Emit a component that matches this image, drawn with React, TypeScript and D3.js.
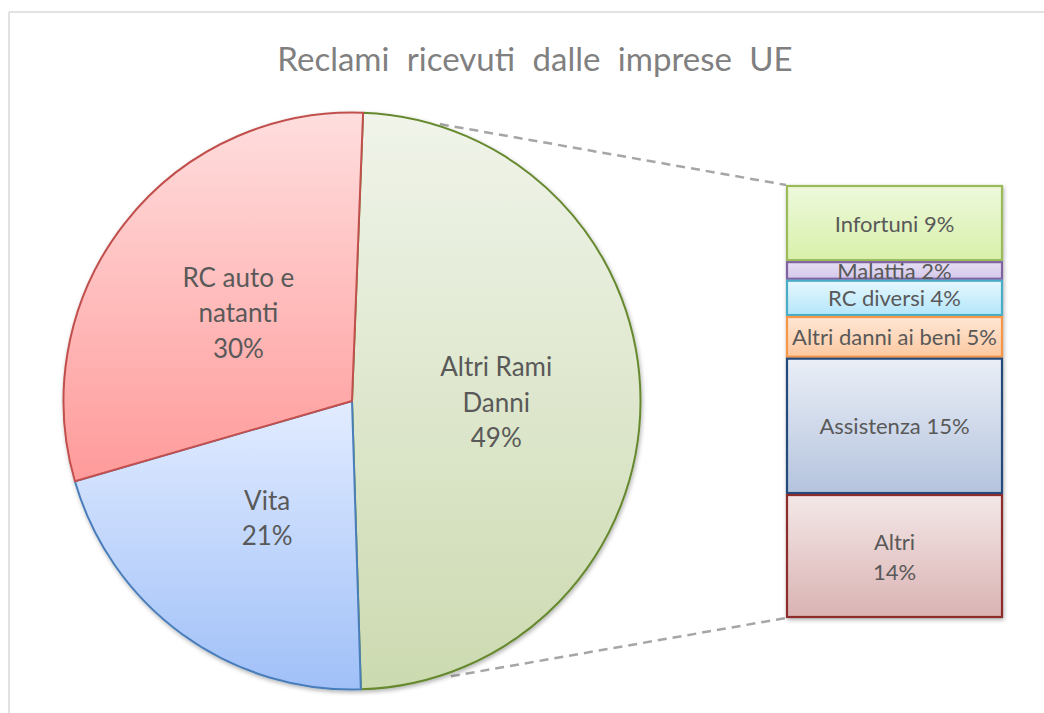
import * as d3 from "d3"

// Pie categories (the first slice is exploded into the bar on the right)
const pieNames = ["Altri Rami Danni", "Vita", "RC auto e natanti"]
const pieLines = [["Altri Rami", "Danni"], ["Vita"], ["RC auto e", "natanti"]]
const vitaValue = 21.0
const rcValue = 30.1

// Breakdown of "Altri Rami Danni"
const barNames = ["Infortuni", "Malattia", "RC diversi", "Altri danni ai beni", "Assistenza", "Altri"]
const barValues = [8.6, 2.1, 4.1, 4.7, 15.4, 14.0]
const barWrapped = [false, false, false, false, false, true]

const pieValues = [d3.sum(barValues), vitaValue, rcValue]
const total = d3.sum(pieValues)

const pieColors = [
  { top: "#f0f4ea", bottom: "#ccdab0", stroke: "#66892f" },
  { top: "#e2ecff", bottom: "#a0c0f8", stroke: "#4a7ebb" },
  { top: "#ffdede", bottom: "#ff9a9a", stroke: "#c0504d" },
]
const barColors = [
  { top: "#eef9dc", bottom: "#d8f0aa", stroke: "#9bbb59" },
  { top: "#e8e0f4", bottom: "#d2c6ea", stroke: "#8064a2" },
  { top: "#e8f8fe", bottom: "#b2e6fa", stroke: "#4bacc6" },
  { top: "#ffe7d6", bottom: "#fcc8a0", stroke: "#f79646" },
  { top: "#eaeff7", bottom: "#b4c3dd", stroke: "#244a7c" },
  { top: "#f4e8e8", bottom: "#dab2b2", stroke: "#8c2d2b" },
]

const W = 1044
const H = 713
const font = "Lato, 'Open Sans', sans-serif"
const rad = (deg: number) => (deg * Math.PI) / 180
const pct = (v: number) => `${Math.round((v / total) * 100)}%`

export default function App() {
  // Pie
  const cx = 352
  const cy = 401
  const r = 288.5
  const start = rad(2.2)
  const arcs = d3
    .pie<number>()
    .sort(null)
    .startAngle(start)
    .endAngle(start + 2 * Math.PI)(pieValues)
  const arc = d3.arc<d3.PieArcDatum<number>>().innerRadius(0).outerRadius(r)

  // Bar
  const barX = 786
  const barW = 217
  const y = d3.scaleLinear().domain([0, d3.sum(barValues)]).range([185, 618])
  const cum = d3.cumsum(barValues)
  const segs = barValues.map((v, i) => ({ y0: y(cum[i] - v), y1: y(cum[i]), v, i }))

  // Connector lines from the pie edge to the bar corners
  const pt = (a: number, rr: number) => [cx + rr * Math.sin(a), cy - rr * Math.cos(a)]
  const topPt = pt(arcs[0].startAngle + rad(15.4), r + 2)
  const botPt = pt(arcs[0].endAngle - rad(18), r + 4)

  return (
    <svg
      width={W}
      height={H}
      style={{ position: "absolute", left: 0, top: 0, background: "#fff" }}
      fontFamily={font}
    >
      <defs>
        {pieColors.map((c, i) => (
          <linearGradient key={i} id={`pg${i}`} x1="0" y1="0" x2="0" y2="1">
            <stop offset="0" stopColor={c.top} />
            <stop offset="1" stopColor={c.bottom} />
          </linearGradient>
        ))}
        {barColors.map((c, i) => (
          <linearGradient key={i} id={`bg${i}`} x1="0" y1="0" x2="0" y2="1">
            <stop offset="0" stopColor={c.top} />
            <stop offset="1" stopColor={c.bottom} />
          </linearGradient>
        ))}
        {segs.map((s) => (
          <clipPath key={s.i} id={`bc${s.i}`}>
            <rect x={barX} y={s.y0} width={barW} height={s.y1 - s.y0} />
          </clipPath>
        ))}
        <filter id="shadow" x="-10%" y="-10%" width="120%" height="120%">
          <feDropShadow dx="1" dy="2" stdDeviation="2" floodColor="#000" floodOpacity="0.3" />
        </filter>
      </defs>

      {/* chart frame */}
      <line x1={9} y1={12} x2={W} y2={12} stroke="#d9d9d9" strokeWidth={1.5} />
      <line x1={9} y1={12} x2={9} y2={H} stroke="#d9d9d9" strokeWidth={1.5} />

      <text
        x={535}
        y={71}
        textAnchor="middle"
        fontSize={33}
        fill="#808080"
        wordSpacing={9}
      >
        Reclami ricevuti dalle imprese UE
      </text>

      {/* connectors */}
      <g stroke="#a6a6a6" strokeWidth={2.5} strokeDasharray="9 6">
        <line x1={topPt[0]} y1={topPt[1]} x2={barX} y2={y(0)} />
        <line x1={botPt[0]} y1={botPt[1]} x2={barX} y2={y(d3.sum(barValues))} />
      </g>

      {/* pie */}
      <g transform={`translate(${cx},${cy})`} filter="url(#shadow)">
        {arcs.map((a, i) => (
          <path
            key={pieNames[i]}
            d={arc(a) || ""}
            fill={`url(#pg${i})`}
            stroke={pieColors[i].stroke}
            strokeWidth={2}
            strokeLinejoin="round"
          />
        ))}
      </g>
      <g transform={`translate(${cx},${cy})`} fontSize={26} fill="#595959" textAnchor="middle">
        {arcs.map((a, i) => {
          const [lx, ly] = arc.centroid(a)
          const lines = [...pieLines[i], pct(a.data)]
          const lh = 35.5
          return (
            <text key={pieNames[i]}>
              {lines.map((l, j) => (
                <tspan
                  key={j}
                  x={lx}
                  y={ly + (j - (lines.length - 1) / 2) * lh}
                  dominantBaseline="central"
                >
                  {l}
                </tspan>
              ))}
            </text>
          )
        })}
      </g>

      {/* bar of pie */}
      <g filter="url(#shadow)">
        {segs.map((s) => (
          <rect
            key={barNames[s.i]}
            x={barX}
            y={s.y0}
            width={barW}
            height={s.y1 - s.y0}
            fill={`url(#bg${s.i})`}
          />
        ))}
      </g>
      {segs.map((s) => (
        <rect
          key={barNames[s.i]}
          x={barX + 1}
          y={s.y0 + 1}
          width={barW - 2}
          height={s.y1 - s.y0 - 2}
          fill="none"
          stroke={barColors[s.i].stroke}
          strokeWidth={2.2}
        />
      ))}
      <g fontSize={22} fill="#595959" textAnchor="middle">
        {segs.map((s) => {
          const lines = barWrapped[s.i]
            ? [barNames[s.i], pct(s.v)]
            : [`${barNames[s.i]} ${pct(s.v)}`]
          const mid = (s.y0 + s.y1) / 2
          const lh = 30
          return (
            <text key={barNames[s.i]} clipPath={`url(#bc${s.i})`}>
              {lines.map((l, j) => (
                <tspan
                  key={j}
                  x={barX + barW / 2}
                  y={mid + (j - (lines.length - 1) / 2) * lh}
                  dominantBaseline="central"
                >
                  {l}
                </tspan>
              ))}
            </text>
          )
        })}
      </g>
    </svg>
  )
}
